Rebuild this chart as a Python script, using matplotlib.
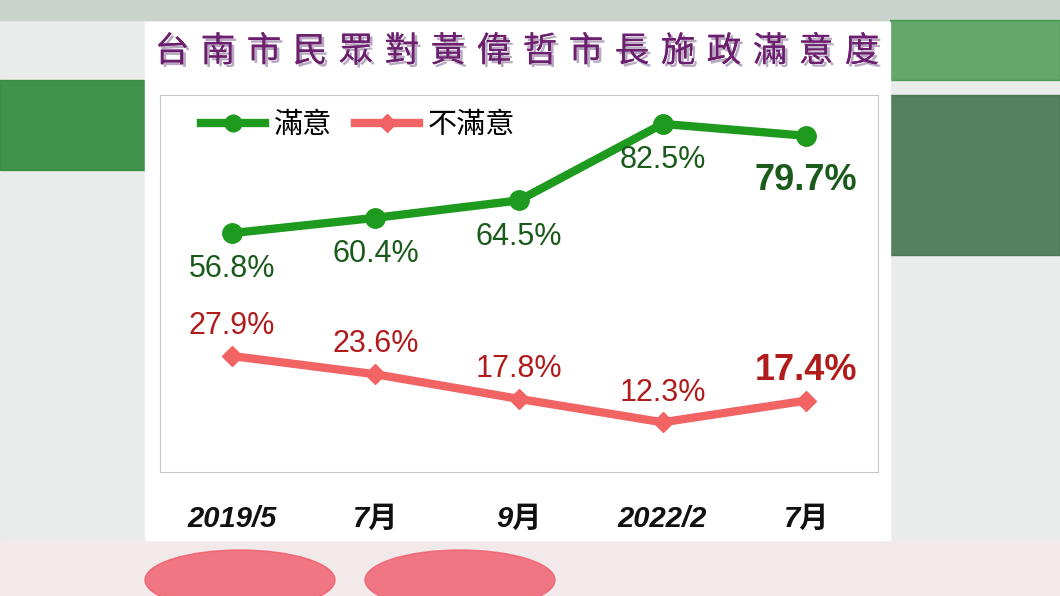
import matplotlib.pyplot as plt
import matplotlib.patheffects as pe
from matplotlib.patches import Rectangle, Ellipse
from matplotlib.lines import Line2D

plt.rcParams['font.family'] = ['Noto Sans CJK TC', 'DejaVu Sans']

periods = ["2019/5", "7月", "9月", "2022/2", "7月"]
satisfied = [56.8, 60.4, 64.5, 82.5, 79.7]
unsatisfied = [27.9, 23.6, 17.8, 12.3, 17.4]

W, H = 1060, 596
fig = plt.figure(figsize=(W / 100, H / 100), dpi=100)
fig.patch.set_facecolor("#e9ecea")

def fx(px):
    return px / W

def fy(py):
    return 1 - py / H

# blurred TV background
bg = fig.add_axes([0, 0, 1, 1], zorder=-5)
bg.set_xlim(0, W)
bg.set_ylim(H, 0)
bg.axis("off")
bg.add_patch(Rectangle((0, 0), W, 20, color="#c9d3cc"))
bg.add_patch(Rectangle((0, 80), 150, 90, color="#2f8a3a", alpha=0.9))
bg.add_patch(Rectangle((890, 95), 170, 160, color="#3e6e45", alpha=0.85))
bg.add_patch(Rectangle((890, 20), 170, 60, color="#2d8a35", alpha=0.7))
bg.add_patch(Rectangle((0, 540), W, 56, color="#f1e9ea"))
for cx in (240, 460):
    bg.add_patch(Ellipse((cx, 580), 190, 60, color="#f05a6a", alpha=0.8))
bg.add_patch(Rectangle((145, 22), 745, 518, color="white"))

# title, spaced out character by character
title = "台南市民眾對黃偉哲市長施政滿意度"
step = (862 - 172) / (len(title) - 1)
for k, ch in enumerate(title):
    fig.text(fx(172 + k * step), fy(52), ch, ha="center", va="center",
             fontsize=25, fontweight="medium", color="#6b1f6e",
             path_effects=[pe.withSimplePatchShadow(offset=(2, -2), shadow_rgbFace="#b8a8c0", alpha=1),
                           pe.Normal()])

ax = fig.add_axes([fx(160), fy(472), fx(878) - fx(160), fy(95) - fy(472)])
x = list(range(len(periods)))
green, dgreen = "#1e9a1e", "#1a5a1a"
red, dred = "#f26464", "#b01c1c"
ax.plot(x, satisfied, color=green, lw=6, marker="o", ms=14)
ax.plot(x, unsatisfied, color=red, lw=6, marker="D", ms=10)
ax.set_xlim(-0.5, 4.5)
ax.set_ylim(0.6, 89.3)
ax.set_xticks([])
ax.set_yticks([])
for s in ax.spines.values():
    s.set_color("#c8c8c8")

num_font = ["Liberation Sans", "DejaVu Sans"]
offs_g = [-8.5, -8.5, -8.5, -8.5, -10.5]
for i, v in enumerate(satisfied):
    big = i == 4
    ax.text(i, v + offs_g[i], f"{v}%", ha="center", va="center", color=dgreen,
            fontsize=26 if big else 22, fontweight="bold" if big else "normal",
            family=num_font)
for i, v in enumerate(unsatisfied):
    big = i == 4
    ax.text(i, v + 7, f"{v}%", ha="center", va="center", color=dred,
            fontsize=26 if big else 22, fontweight="bold" if big else "normal",
            family=num_font)

for i, p in enumerate(periods):
    ax.text(i, -10.5, p, ha="center", va="center", fontsize=21, fontweight="bold",
            style="italic", color="#111111", clip_on=False,
            family=["Liberation Sans", "Noto Sans CJK TC"])

handles = [Line2D([], [], color=green, lw=6, marker="o", ms=12),
           Line2D([], [], color=red, lw=6, marker="D", ms=9)]
ax.legend(handles, ["滿意", "不滿意"], loc="upper left", ncol=2, frameon=False,
          fontsize=21, handlelength=2.2, columnspacing=0.8, handletextpad=0.3,
          bbox_to_anchor=(0.02, 1.03))

fig.savefig("out.png", dpi=100, facecolor=fig.get_facecolor())
